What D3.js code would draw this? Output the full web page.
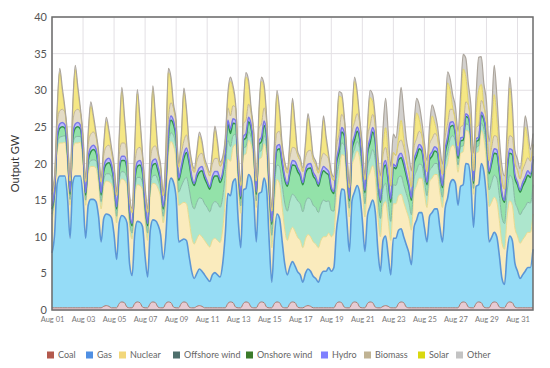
<!DOCTYPE html>
<html>
<head>
<meta charset="utf-8">
<script src="https://cdn.jsdelivr.net/npm/d3@7"></script>
<style>
body { margin: 0; background: #fff; }
text { font-family: Lato, "Open Sans", sans-serif; }
</style>
</head>
<body>
<svg id="chart" width="550" height="368"></svg>
<script>
// output in GW, one value every 4 hours from Aug 01 00:00 to Sep 01 00:00
var sources = ["Coal", "Gas", "Nuclear", "Offshore wind", "Onshore wind", "Hydro", "Biomass", "Solar", "Other"];

var coal = [
  .3,.3,.3,.3,.3,.3, .3,.3,.3,.3,.3,.3, .3,.3,.3,.3,.3,.3, .3,.3,.5,.6,.5,.3,
  .3,.3,.9,1.1,1,.4, .3,.3,.9,1.1,1,.4, .3,.3,.9,1.1,1,.4, .3,.3,.9,1.1,1,.4,
  .3,.3,.9,1.1,1,.4, .3,.3,.5,.6,.5,.3, .3,.3,.3,.3,.3,.3, .3,.3,.9,1.1,1,.4,
  .3,.3,.9,1.1,1,.4, .3,.3,.9,1.1,1,.4, .3,.3,.9,1.1,1,.4, .3,.3,.9,1.1,1,.4,
  .3,.3,.5,.6,.5,.3, .3,.3,.3,.3,.3,.3, .3,.3,.9,1.1,1,.4, .3,.3,.9,1.1,1,.4,
  .3,.3,.9,1.1,1,.4, .3,.3,.5,.6,.5,.3, .3,.3,.9,1.1,1,.4, .3,.3,.3,.3,.3,.3,
  .3,.3,.3,.3,.3,.3, .3,.3,.3,.3,.3,.3, .3,.3,.9,1.1,1,.4, .3,.3,.9,1.1,1,.4,
  .3,.3,.9,1.1,1,.4, .3,.3,.9,1.1,1,.4, .3,.3,.3,.3,.3,.3, .3
];
var gas = [
  7.5,10,17,18,18,18, 15,9.5,17,18,18,18, 15,9.5,14,14.8,14.8,14.5, 12.5,9,12,12.5,12.5,12.3,
  10,6.6,11,11.8,11.7,11.5, 6,4.4,9.5,11,11,11, 7,4.2,10,11.2,11.2,11.2, 10,6.6,9,15,17,17,
  15,9,8.6,8.6,8.5,7, 5,4,4.5,5,4.8,4.5, 4,3.6,4.5,4.8,4.5,4.2, 6,10,15,14.5,16.5,17.5,
  12,8.2,15.5,15.5,17.5,17.5, 15,9,15,15,17,16, 9,3.5,9,12,11.5,9, 6,4.5,5,5.5,5,4.8,
  4.5,3.5,4.5,5,4.8,4.3, 4,3.5,4.5,5,5,5.5, 5,5.5,10,12.5,15.5,16, 12,7.7,14,15,16,15.5,
  12,7.7,12,13,14,13, 8,5,9,9.5,7,4.5, 9.5,9.5,10,10,9,8.5, 7.5,5.9,11,12,13,13,
  11,9,12.5,13,13.5,13.5, 11,9,13.5,15,17,17.5, 17,14,16,16,19,19.5, 17,11,16,16,19,18.5,
  15,9,9,9.5,9,7, 4,3.2,7,9,8.5,6, 5,4,4.5,5,5.5,5.5, 8
];
var nuclear = [
  4.5,4.5,4.4,4.5,4.5,4.6, 4.5,4.5,4.4,4.5,4.5,4.6, 4.5,4.5,4.4,4.5,4.5,4.6, 4.5,4.5,4.4,4.5,4.5,4.6,
  5,5,5,5,5,5, 5,5,5,5,5,5, 5,5,5,5,5,5, 5,5,5,5,5,5,
  5,5,5,5,5,5, 4.7,4.7,4.7,4.7,4.7,4.7, 4.7,4.7,4.7,4.7,4.7,4.7, 4.7,4.7,4.7,4.7,4.7,4.7,
  4.7,4.7,4.7,4.7,4.7,4.7, 4.7,4.7,4.7,4.7,4.7,4.7, 4.7,4.7,4.7,4.7,4.7,4.7, 4.7,4.7,4.7,4.7,4.7,4.7,
  4.7,4.7,4.7,4.7,4.7,4.7, 4.7,4.7,4.7,4.7,4.7,4.7, 4.7,4.7,4.7,4.7,4.7,4.7, 4.7,4.7,4.7,4.7,4.7,4.7,
  4.7,4.7,4.7,4.7,4.7,4.7, 4.7,4.7,4.7,4.7,4.7,4.7, 4.7,4.7,4.7,4.7,4.7,4.7, 4.7,4.7,4.7,4.7,4.7,4.7,
  4.7,4.7,4.7,4.7,4.7,4.7, 4.7,4.7,4.7,4.7,4.7,4.7, 4.5,4.5,4.5,4.5,4.5,4.5, 4.5,4.5,4.5,4.5,4.5,4.5,
  4.8,4.8,4.8,4.8,4.8,4.8, 4.8,4.8,4.8,4.8,4.8,4.8, 4.8,4.8,4.8,4.8,4.8,4.8, 4.8
];
var offshore = [
  .8,.7,.7,.8,.9,.9, .9,.8,.7,.8,.9,.8, .8,.7,.8,.8,.9,1, 1,1,.9,1,1.1,1,
  1,.9,.9,1,1.1,1, .9,.8,.9,1,1.1,1, 1,1,.9,1,1.2,1.1, 1,.9,1,1,1.2,1.4,
  1.6,1.8,2.4,3,3.6,4.2, 4.6,4.8,5,5,5.2,5, 5,4.8,4.9,5,5.1,4.8, 4.4,3.6,2.6,2,1.6,1.4,
  1.2,1,1,1,1.1,1, 1,.9,.9,1,1.1,1.2, 1.5,1.7,1.9,2,2.4,3, 3.6,4,4.3,4.5,4.8,5,
  5,4.9,5,5,5.1,5, 5,4.8,4.9,5,4.8,4.4, 3.6,3,2.4,1.8,1.6,1.4, 1.3,1.2,1.2,1.2,1.3,1.4,
  1.6,1.8,1.9,2,2.2,2.4, 2.5,2.5,2.4,2.5,2.6,2.6, 2.6,2.5,2.5,2.5,2.4,2.3, 2.2,2.1,2,2,1.9,1.8,
  1.7,1.6,1.5,1.5,1.5,1.5, 1.5,1.4,1.4,1.5,1.4,1.3, 1.2,1,.9,.8,.9,.9, .9,.8,.8,.8,1,1.3,
  1.8,2.3,2.7,3,3.2,3.4, 3.5,3.5,3.4,3.5,3.6,3.7, 3.8,3.9,4,4,4.1,4, 4
];
var onshore = [
  .7,.6,.8,1.2,1.3,1, .8,.7,.9,1.2,1.3,1, .8,.7,.9,1.2,1.4,1.1, 1,.9,1.1,1.3,1.5,1.2,
  1.1,1,1.2,1.5,1.6,1.3, 1.1,1,1.2,1.5,1.7,1.3, 1.1,1,1.2,1.5,1.6,1.3, 1.1,1,1.2,1.5,1.7,1.5,
  1.5,1.6,2.2,3,3.4,3.5, 3.3,3.2,3.4,3.5,3.8,3.5, 3.2,3.1,3.3,3.5,3.7,3.4, 3,2.6,2.2,1.8,1.7,1.4,
  1.1,1,1.1,1.2,1.4,1.2, 1,.9,1.1,1.2,1.4,1.3, 1.4,1.5,1.8,2,2.4,2.8, 3.2,3.4,3.7,4,4.2,4,
  3.8,3.7,3.9,4,4.3,4, 3.8,3.6,3.8,4,3.9,3.5, 2.8,2.4,2,1.5,1.5,1.3, 1.1,1,1.1,1.2,1.4,1.3,
  1.4,1.5,1.8,2,2.4,2.4, 2.3,2.2,2.4,2.5,2.8,2.6, 2.4,2.3,2.4,2.5,2.7,2.4, 2.1,2,2,2,2.1,1.9,
  1.6,1.5,1.5,1.5,1.7,1.5, 1.3,1.3,1.4,1.5,1.6,1.4, 1,.9,.8,.8,1,.9, .8,.7,.8,.8,1.1,1.3,
  1.8,2.2,2.6,3,3.3,3.2, 3,2.9,3,3,3.3,3.1, 3.2,3.1,3.3,3.5,3.7,3.5, 3.5
];
var hydro = [
  .4,.3,.5,.6,.6,.5, .4,.3,.5,.6,.6,.5, .4,.3,.5,.6,.6,.5, .4,.3,.5,.6,.6,.5,
  .4,.3,.5,.6,.6,.5, .4,.3,.5,.6,.6,.5, .4,.3,.5,.6,.6,.5, .4,.3,.5,.6,.6,.5,
  .4,.3,.5,.6,.6,.5, .4,.3,.5,.6,.6,.5, .4,.3,.5,.6,.6,.5, .4,.3,.5,.6,.6,.5,
  .4,.3,.5,.6,.6,.5, .4,.3,.5,.6,.6,.5, .4,.3,.5,.6,.6,.5, .4,.3,.5,.6,.6,.5,
  .4,.3,.5,.6,.6,.5, .4,.3,.5,.6,.6,.5, .4,.3,.5,.6,.6,.5, .4,.3,.5,.6,.6,.5,
  .4,.3,.5,.6,.6,.5, .4,.3,.5,.6,.6,.5, .4,.3,.5,.6,.6,.5, .4,.3,.5,.6,.6,.5,
  .4,.3,.5,.6,.6,.5, .4,.3,.5,.6,.6,.5, .3,.3,.4,.4,.4,.3, .3,.3,.4,.4,.4,.3,
  .4,.3,.5,.6,.6,.5, .4,.3,.5,.6,.6,.5, .4,.3,.5,.6,.6,.5, .4
];
var biomass = [
  1.6,1.5,1.7,1.8,1.8,1.7, 1.6,1.5,1.7,1.8,1.8,1.7, 1.6,1.5,1.7,1.8,1.8,1.7, 1.6,1.5,1.7,1.8,1.8,1.7,
  1.6,1.5,1.7,1.8,1.8,1.7, 1.6,1.5,1.7,1.8,1.8,1.7, 1.6,1.5,1.7,1.8,1.8,1.7, 1.6,1.5,1.7,1.8,1.8,1.7,
  1.6,1.5,1.7,1.8,1.8,1.7, 1.6,1.5,1.7,1.8,1.8,1.7, 1.6,1.5,1.7,1.8,1.8,1.7, 1.6,1.5,1.7,1.8,1.8,1.7,
  1.6,1.5,1.7,1.8,1.8,1.7, 1.6,1.5,1.7,1.8,1.8,1.7, 1.6,1.5,1.7,1.8,1.8,1.7, 1.6,1.5,1.7,1.8,1.8,1.7,
  1.6,1.5,1.7,1.8,1.8,1.7, 1.6,1.5,1.7,1.8,1.8,1.7, 1.6,1.5,1.7,1.8,1.8,1.7, 1.6,1.5,1.7,1.8,1.8,1.7,
  1.6,1.5,1.7,1.8,1.8,1.7, 1.6,1.5,1.7,1.8,1.8,1.7, 1.6,1.5,1.7,1.8,1.8,1.7, 1.6,1.5,1.7,1.8,1.8,1.7,
  1.6,1.5,1.7,1.8,1.8,1.7, 1.6,1.5,1.7,1.8,1.8,1.7, 1.5,1.4,1.5,1.6,1.6,1.5, 1.5,1.4,1.5,1.6,1.6,1.5,
  1.6,1.5,1.7,1.8,1.8,1.7, 1.6,1.5,1.7,1.8,1.8,1.7, 1.6,1.5,1.7,1.8,1.8,1.7, 1.6
];
var solar = [
  0,0,1.6,5.2,2.3,.1, 0,0,1.7,5.6,2.5,.1, 0,0,1.1,3.8,1.7,.1, 0,0,1,3.4,1.5,.1,
  0,0,2.1,7,3.2,.1, 0,0,2.3,7.5,3.4,.1, 0,0,2.3,7.8,3.5,.1, 0,0,1.9,6.4,2.9,.1,
  0,0,2,6.6,3,.1, 0,0,.8,2.5,1.1,.1, 0,0,1.1,3.8,1.7,.1, 0,0,1.4,4.7,2.1,.1,
  0,0,1.8,5.9,2.7,.1, 0,0,1.7,5.8,2.6,.1, 0,0,1.6,5.2,2.3,.1, 0,0,1.8,6.1,2.7,.1,
  0,0,1.4,4.5,2,.1, 0,0,1.4,4.5,2,.1, 0,0,1.6,5.2,2.3,.1, 0,0,1.7,5.6,2.5,.1,
  0,0,1.1,3.8,1.7,.1, 0,0,.8,2.7,1.2,.1, 0,0,.8,2.7,1.2,.1, 0,0,1.1,3.5,1.6,.1,
  0,0,.9,3.1,1.4,.1, 0,0,1.7,5.6,2.5,.1, 0,0,2.3,7.7,3.5,.1, 0,0,1.4,4.8,2.2,.1,
  0,0,1.7,5.6,2.5,.1, 0,0,2,6.5,2.9,.1, 0,0,1.5,5,2.3,.1, 0
];
var other = [
  .5,.5,.6,.6,.6,.5, .5,.5,.6,.6,.6,.5, .5,.5,.6,.6,.6,.5, .5,.5,.6,.6,.6,.5,
  .5,.5,.6,.6,.6,.5, .5,.5,.6,.6,.6,.5, .5,.5,.6,.6,.6,.5, .5,.5,.6,.6,.6,.5,
  .5,.5,.6,.6,.6,.5, .5,.5,.6,.6,.6,.5, .5,.5,.6,.6,.6,.5, .5,.5,.6,.6,.6,.5,
  .5,.5,.6,.6,.6,.5, .5,.5,.6,.6,.6,.5, .5,.5,.6,.6,.6,.5, .5,.5,.6,.6,.6,.5,
  .5,.5,.6,.6,.6,.5, .5,.5,.6,.6,.6,.5, .5,.5,.6,.6,.6,.5, .5,.5,.6,.6,.6,.5,
  .6,.6,.8,1,1,1.2, 1.5,1.8,2.8,4,3.2,2.6, 2.5,2.4,3,4.5,3.6,2.8, 2.5,2.2,2,2,2,1.8,
  1.6,1.5,1.5,1.5,1.5,1.5, 1.5,1.4,1.5,1.5,1.6,1.8, 2,2,2.2,2,2.5,2.8, 2.6,2.4,3,4.5,3.8,3,
  2.8,2.6,3,4,3.2,2.4, 2,1.8,1.6,1.5,1.5,1.5, 1.5,1.4,1.5,1.5,1.5,1.5, 1.5
];

var yTicks = [0, 5, 10, 15, 20, 25, 30, 35, 40];

var fills = ["#e7cbd3", "#95dcf7", "#faebbd", "#ade6cd", "#93e2a9", "#bcbcfb", "#e4dcc6", "#f5e785", "#d2d0cd"];
var strokes = ["#a87a70", "#5b96d6", "#e9db8e", "#86b8a4", "#2f9248", "#7a78ea", "#c2b594", "#e2d46a", "#aca59c"];
var strokeW = [1, 1.6, 1, 1, 1.5, 1.5, 1, 1, 1.2];
var legendCol = ["#b3594d", "#4f8fe3", "#f2d77a", "#4e6f6c", "#3b7b2a", "#7f80ff", "#c0b393", "#d9d80f", "#c3c3c3"];
var legendX = [47, 86, 119, 173, 246, 321, 364, 418, 456];

var columns = [coal, gas, nuclear, offshore, onshore, hydro, biomass, solar, other];
var start = new Date(2017, 7, 1),
    end = new Date(2017, 8, 1);
var rows = gas.map(function (v, i) {
    var r = { time: d3.timeHour.offset(start, 4 * i) };
    sources.forEach(function (k, j) { r[k] = columns[j][i]; });
    return r;
});

var svg = d3.select("#chart"),
    plotL = 52, plotR = 533, plotT = 17, plotB = 310;

var x = d3.scaleTime().domain([start, end]).range([plotL, plotR]);
var y = d3.scaleLinear().domain([0, 40]).range([plotB, plotT]);

// grid
var dayTicks = d3.timeDay.every(2).range(start, end);
svg.append("g").selectAll("line").data(yTicks).enter().append("line")
    .attr("x1", plotL).attr("x2", plotR)
    .attr("y1", function (d) { return y(d); }).attr("y2", function (d) { return y(d); })
    .attr("stroke", "#e3e0e4").attr("stroke-width", 1);
svg.append("g").selectAll("line").data(dayTicks).enter().append("line")
    .attr("x1", function (d) { return x(d); }).attr("x2", function (d) { return x(d); })
    .attr("y1", plotT).attr("y2", plotB)
    .attr("stroke", "#e3e0e4").attr("stroke-width", 1);

var series = d3.stack().keys(sources)(rows);

var area = d3.area()
    .curve(d3.curveMonotoneX)
    .x(function (d) { return x(d.data.time); })
    .y0(function (d) { return y(d[0]); })
    .y1(function (d) { return y(d[1]); });
var topLine = d3.line()
    .curve(d3.curveMonotoneX)
    .x(function (d) { return x(d.data.time); })
    .y(function (d) { return y(d[1]); });

var plot = svg.append("g");
plot.selectAll("path.area").data(series).enter().append("path")
    .attr("class", "area")
    .attr("d", area)
    .attr("fill", function (d, i) { return fills[i]; });
plot.selectAll("path.edge").data(series).enter().append("path")
    .attr("class", "edge")
    .attr("d", topLine)
    .attr("fill", "none")
    .attr("stroke", function (d, i) { return strokes[i]; })
    .attr("stroke-width", function (d, i) { return strokeW[i]; });

// frame
svg.append("rect")
    .attr("x", plotL).attr("y", plotT)
    .attr("width", plotR - plotL).attr("height", plotB - plotT)
    .attr("fill", "none").attr("stroke", "#6b6b6b").attr("stroke-width", 1.5);

// axes
var yAxis = svg.append("g")
    .attr("transform", "translate(" + plotL + ",0)")
    .call(d3.axisLeft(y).tickValues(yTicks).tickSize(0).tickPadding(5));
yAxis.select(".domain").remove();
yAxis.selectAll("text").attr("font-size", 11).attr("fill", "#555")
    .style("font-family", "Lato, 'Open Sans', sans-serif");

var xAxis = svg.append("g")
    .attr("transform", "translate(0," + plotB + ")")
    .call(d3.axisBottom(x).tickValues(dayTicks).tickFormat(d3.timeFormat("%b %d")).tickSize(0).tickPadding(7));
xAxis.select(".domain").remove();
xAxis.selectAll("text").attr("font-size", 7.5).attr("fill", "#777")
    .style("font-family", "Lato, 'Open Sans', sans-serif");

svg.append("text")
    .attr("transform", "translate(19," + ((plotT + plotB) / 2) + ") rotate(-90)")
    .attr("text-anchor", "middle")
    .attr("font-size", 11)
    .attr("fill", "#333")
    .text("Output GW");

// legend
var legend = svg.append("g").selectAll("g").data(sources).enter().append("g")
    .attr("transform", function (d, i) { return "translate(" + legendX[i] + ",355)"; });
legend.append("rect")
    .attr("x", 0).attr("y", -3.5).attr("width", 7).attr("height", 7)
    .attr("fill", function (d, i) { return legendCol[i]; });
legend.append("text")
    .attr("x", 11).attr("y", 0).attr("dy", "0.35em")
    .attr("font-size", 9).attr("fill", "#666")
    .text(function (d) { return d; });
</script>
</body>
</html>
